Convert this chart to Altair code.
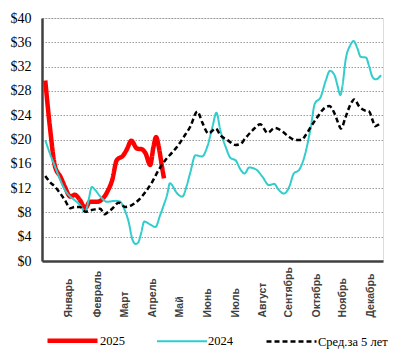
import altair as alt
import pandas as pd

# Week-of-year positions and prices ($)
red_weeks = [0.5, 1.2, 2.0, 2.8, 3.5, 4.3, 5.0, 5.8, 6.6, 7.3, 8.4, 9.3, 10.1, 10.7, 11.4,
             12.4, 13.0, 13.6, 14.5, 15.2, 15.8, 16.5, 17.0, 17.4, 17.8, 18.3, 18.6]
red_vals = [29.7, 22.1, 15.5, 13.9, 12.2, 10.6, 10.9, 10.0, 8.7, 9.75, 9.75, 10.3, 11.7, 13.3, 16.6,
            17.4, 18.5, 19.8, 18.5, 18.4, 17.7, 15.8, 18.8, 20.4, 18.8, 15.5, 13.6]

cyan_weeks = [0.5, 1.2, 2.0, 2.8, 3.5, 4.3, 5.0, 5.8, 6.6, 7.1, 7.6, 8.1, 8.9, 9.9, 11.2, 11.9,
              12.4, 13.2, 13.8, 14.3, 14.7, 15.1, 15.6, 16.5, 17.3, 18.0, 18.5, 19.1, 19.5, 19.9,
              20.3, 21.4, 22.1, 22.6, 23.4, 24.4, 25.2, 26.0, 26.6, 27.2, 28.0, 28.8, 29.5, 30.3,
              30.9, 31.6, 32.6, 33.6, 34.6, 35.4, 36.1, 36.9, 37.7, 38.4, 39.2, 40.1, 41.0, 41.6,
              42.5, 43.3, 43.9, 44.6, 45.1, 45.5, 45.8, 46.3, 47.0, 47.5, 48.1, 48.6, 49.4, 49.9,
              50.4, 50.9, 51.7]
cyan_vals = [19.9, 17.7, 15.5, 13.3, 11.7, 10.6, 10.0, 9.2, 8.1, 10.0, 12.2, 11.7, 10.6, 9.75, 9.9, 9.8,
             8.9, 6.5, 3.5, 2.8, 3.1, 4.5, 6.5, 6.0, 5.6, 7.5, 9.0, 11.0, 12.8, 12.4,
             11.6, 10.6, 12.5, 14.5, 17.4, 17.2, 18.8, 22.1, 24.4, 21.5, 18.8, 16.9, 16.6, 15.0,
             14.4, 15.4, 15.1, 13.9, 12.5, 12.7, 11.7, 11.1, 12.2, 14.4, 15.0, 17.5, 22.1, 25.9,
             27.0, 29.8, 31.3, 30.6, 28.7, 27.3, 28.7, 33.1, 35.5, 36.2, 35.0, 33.6, 33.5, 32.0,
             30.3, 29.9, 30.6]

avg_weeks = [0.5, 1.2, 2.0, 2.8, 3.5, 4.3, 5.0, 5.8, 6.6, 7.3, 8.1, 8.9, 9.5, 10.1, 10.7, 11.7,
             12.7, 13.7, 14.7, 15.8, 16.8, 17.8, 18.8, 19.8, 20.6, 21.6, 22.6, 23.7, 24.4, 25.4,
             26.5, 27.2, 28.3, 29.5, 30.3, 31.0, 32.1, 33.3, 34.4, 35.5, 36.7, 37.7, 38.7, 39.5,
             40.2, 41.0, 42.0, 43.0, 43.8, 44.6, 45.1, 45.6, 46.3, 47.1, 47.6, 48.4, 49.2, 49.9,
             50.4, 50.8, 51.4]
avg_vals = [14.0, 13.0, 12.2, 11.1, 10.0, 8.7, 8.9, 8.9, 8.1, 8.3, 8.5, 8.6, 7.7, 8.1, 8.6, 9.6,
            8.9, 9.2, 10.0, 11.4, 13.0, 15.0, 16.6, 17.8, 18.8, 20.4, 22.1, 24.6, 22.9, 21.0,
            21.8, 20.7, 19.9, 19.1, 19.3, 20.2, 21.5, 22.5, 21.1, 21.9, 21.3, 20.4, 19.9, 19.9,
            20.7, 22.1, 23.7, 25.1, 25.5, 24.3, 22.9, 21.8, 23.7, 25.9, 26.6, 25.4, 24.8, 24.6,
            23.2, 22.2, 22.5]

series_names = ["2025", "2024", "Сред.за 5 лет"]
series_colors = ["#FF0000", "#33CCCC", "#000000"]

month_names = ["Январь", "Февраль", "Март", "Апрель", "Май", "Июнь", "Июль",
               "Август", "Сентябрь", "Октябрь", "Ноябрь", "Декабрь"]
month_pos = [4.1, 8.4, 12.6, 16.8, 21.0, 25.2, 29.5, 33.6, 37.6, 41.8, 45.9, 50.1]
y_ticks = [0, 4, 8, 12, 16, 20, 24, 28, 32, 36, 40]

rows = []
for name, ws, vs in zip(series_names, [red_weeks, cyan_weeks, avg_weeks],
                        [red_vals, cyan_vals, avg_vals]):
    for i, (w, v) in enumerate(zip(ws, vs)):
        rows.append({"series": name, "week": w, "price": v, "ord": i})
df = pd.DataFrame(rows)

month_arr = "[" + ",".join("'" + m + "'" for m in month_names) + "]"
pos_arr = "[" + ",".join(str(p) for p in month_pos) + "]"

chart = alt.Chart(df).mark_line(interpolate="monotone").encode(
    x=alt.X("week:Q", scale=alt.Scale(domain=[0, 52], nice=False, zero=False),
            axis=alt.Axis(values=month_pos, title=None, grid=False, ticks=False,
                          labelAngle=-90, labelAlign="left", labelBaseline="middle",
                          labelPadding=56, labelFont="Liberation Sans", labelFontSize=10.5,
                          labelColor="#404040", labelFontWeight="bold",
                          labelExpr=month_arr + "[indexof(" + pos_arr + ", datum.value)]",
                          domainColor="#404040", domainWidth=2.5, labelOverlap=False)),
    y=alt.Y("price:Q", scale=alt.Scale(domain=[0, 40], nice=False),
            axis=alt.Axis(values=y_ticks, title=None, ticks=False, grid=True,
                          gridColor="#9a9a9a", gridDash=[1.5, 1.5], gridWidth=1,
                          labelFont="Liberation Serif", labelFontSize=14, labelColor="#000000",
                          labelPadding=11, labelExpr="'$' + datum.value",
                          domainColor="#404040", domainWidth=2.5)),
    color=alt.Color("series:N", scale=alt.Scale(domain=series_names, range=series_colors),
                    legend=alt.Legend(title=None, orient="none", legendX=3, legendY=295,
                                      direction="horizontal", symbolType="stroke",
                                      symbolSize=2500, columnPadding=28, labelOffset=0,
                                      labelFont="Liberation Serif", labelFontSize=12.5,
                                      labelColor="#000000", padding=0)),
    strokeDash=alt.StrokeDash("series:N",
                              scale=alt.Scale(domain=series_names,
                                              range=[[1, 0], [1, 0], [5, 3]])),
    strokeWidth=alt.StrokeWidth("series:N",
                                scale=alt.Scale(type="ordinal", domain=series_names,
                                                range=[4.5, 2, 2.5])),
    order="ord:Q",
).properties(
    width=341, height=243,
    autosize=alt.AutoSizeParams(type="none"),
    padding={"left": 42, "top": 18, "right": 20, "bottom": 90},
).configure_view(
    stroke="#8c8c8c", strokeWidth=2
).configure(background="white")

chart.save("out.html", embed_options={"renderer": "svg", "actions": False})
